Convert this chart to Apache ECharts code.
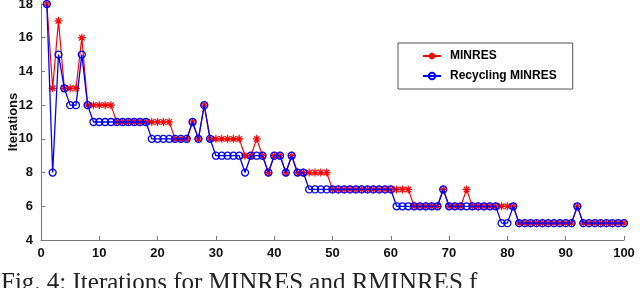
<!DOCTYPE html>
<html>
<head>
<meta charset="utf-8">
<script src="https://cdn.jsdelivr.net/npm/echarts@6/dist/echarts.min.js"></script>
<style>
html,body{margin:0;padding:0;background:#fff;}
#c{width:640px;height:288px;}
</style>
</head>
<body>
<div id="c"></div>
<script>
const xs = Array.from({length: 100}, (_, k) => k + 1);
const minres = [
  18, 13, 17, 13, 13, 13, 16, 12, 12, 12,
  12, 12, 11, 11, 11, 11, 11, 11, 11, 11,
  11, 11, 10, 10, 10, 11, 10, 12, 10, 10,
  10, 10, 10, 10, 9, 9, 10, 9, 8, 9,
  9, 8, 9, 8, 8, 8, 8, 8, 8, 7,
  7, 7, 7, 7, 7, 7, 7, 7, 7, 7,
  7, 7, 7, 6, 6, 6, 6, 6, 7, 6,
  6, 6, 7, 6, 6, 6, 6, 6, 6, 6,
  6, 5, 5, 5, 5, 5, 5, 5, 5, 5,
  5, 6, 5, 5, 5, 5, 5, 5, 5, 5
];
const recycling = [
  18, 8, 15, 13, 12, 12, 15, 12, 11, 11,
  11, 11, 11, 11, 11, 11, 11, 11, 10, 10,
  10, 10, 10, 10, 10, 11, 10, 12, 10, 9,
  9, 9, 9, 9, 8, 9, 9, 9, 8, 9,
  9, 8, 9, 8, 8, 7, 7, 7, 7, 7,
  7, 7, 7, 7, 7, 7, 7, 7, 7, 7,
  6, 6, 6, 6, 6, 6, 6, 6, 7, 6,
  6, 6, 6, 6, 6, 6, 6, 6, 5, 5,
  6, 5, 5, 5, 5, 5, 5, 5, 5, 5,
  5, 6, 5, 5, 5, 5, 5, 5, 5, 5
];
const seriesNames = ['MINRES', 'Recycling MINRES'];
const xTicks = {min: 0, max: 100, interval: 10};
const yTicks = {min: 4, max: 18, interval: 2};
const caption = 'Fig. 4: Iterations for MINRES and RMINRES f';

const star = 'path://M0,-10 L0,10 M-10,0 L10,0 M-7,-7 L7,7 M-7,7 L7,-7';
const font = '"Liberation Sans", Arial, sans-serif';

const chart = echarts.init(document.getElementById('c'), null, {renderer: 'canvas'});
chart.setOption({
  animation: false,
  backgroundColor: '#fff',
  grid: {left: 41, right: 16, top: 4, bottom: 48, containLabel: false, outerBoundsMode: 'none'},
  legend: {
    orient: 'vertical',
    left: 398, top: 43,
    padding: [7, 16, 7, 24],
    itemGap: 8,
    itemWidth: 18, itemHeight: 8,
    borderColor: '#555', borderWidth: 1,
    backgroundColor: '#fff',
    textStyle: {fontFamily: font, fontWeight: 'bold', fontSize: 12, color: '#000', padding: [0, 0, 0, 4]},
    data: seriesNames
  },
  xAxis: {
    type: 'value',
    min: xTicks.min, max: xTicks.max, interval: xTicks.interval,
    axisLine: {lineStyle: {color: '#777', width: 1}},
    axisTick: {inside: true, length: 4, lineStyle: {color: '#777'}},
    axisLabel: {fontFamily: font, fontWeight: 'bold', fontSize: 13, color: '#111', margin: 7},
    splitLine: {show: false}
  },
  yAxis: {
    type: 'value',
    min: yTicks.min, max: yTicks.max, interval: yTicks.interval,
    name: 'Iterations',
    nameLocation: 'middle',
    nameGap: 21,
    nameMoveOverlap: false,
    nameTextStyle: {fontFamily: font, fontWeight: 'bold', fontSize: 13, color: '#111'},
    axisLine: {show: true, lineStyle: {color: '#777', width: 1}},
    axisTick: {show: true, inside: true, length: 4, lineStyle: {color: '#777'}},
    axisLabel: {fontFamily: font, fontWeight: 'bold', fontSize: 13, color: '#111', margin: 8},
    splitLine: {show: false}
  },
  series: [
    {
      name: seriesNames[0],
      type: 'line',
      data: xs.map((x, k) => [x, minres[k]]),
      symbol: star,
      symbolSize: 8,
      showAllSymbol: true,
      lineStyle: {color: '#ff0000', width: 1.2},
      itemStyle: {color: 'rgba(0,0,0,0)', borderColor: '#ff0000', borderWidth: 1.2},
      z: 2
    },
    {
      name: seriesNames[1],
      type: 'line',
      data: xs.map((x, k) => [x, recycling[k]]),
      symbol: 'circle',
      symbolSize: 7,
      showAllSymbol: true,
      lineStyle: {color: '#0000ff', width: 1.3},
      itemStyle: {color: 'rgba(0,0,0,0)', borderColor: '#0000ff', borderWidth: 1.3},
      z: 3
    }
  ],
  graphic: [
    {
      type: 'text', left: 1, top: 271,
      style: {text: caption, font: '25px "Liberation Serif", "Times New Roman", serif', fill: '#222'}
    }
  ]
});
</script>
</body>
</html>
